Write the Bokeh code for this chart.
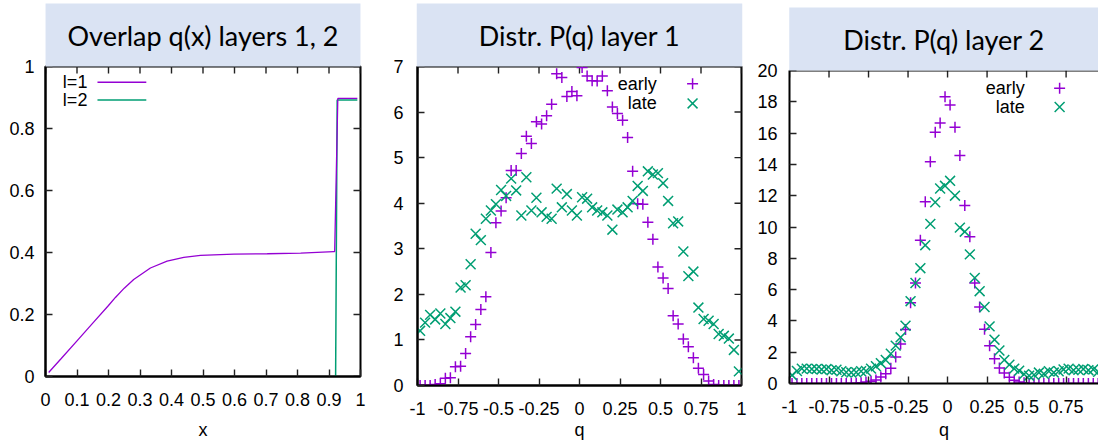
import math
from bokeh.plotting import figure
from bokeh.layouts import row, column
from bokeh.models import Range1d, FixedTicker, CustomJSTickFormatter, Title, Span
from bokeh.core.properties import value
from bokeh.embed import file_html
from bokeh.resources import INLINE

PURPLE = "#9400d3"
GREEN = "#009e73"
TITLE_BG = "#dae3f3"
TICK_FONT = "Liberation Sans"
TITLE_FONT = "Lato"

# ---------------- data ----------------
# panel 1: overlap q(x)
overlap_l1_x = [0.01, 0.05, 0.10, 0.15, 0.20, 0.222, 0.25, 0.28, 0.333, 0.386, 0.439, 0.492,
                0.598, 0.704, 0.81, 0.915, 0.918, 0.928, 0.99]
overlap_l1_y = [0.013, 0.058, 0.115, 0.172, 0.229, 0.255, 0.285, 0.313, 0.350, 0.372, 0.384, 0.391,
                0.395, 0.396, 0.398, 0.403, 0.403, 0.897, 0.897]
overlap_l2_x = [0.921, 0.926, 0.99]
overlap_l2_y = [0.0, 0.892, 0.892]

# panels 2, 3: q bins
q_bins = [-0.984, -0.953, -0.922, -0.891, -0.859, -0.828, -0.797, -0.766, -0.734, -0.703,
          -0.672, -0.641, -0.609, -0.578, -0.547, -0.516, -0.484, -0.453, -0.422, -0.391,
          -0.359, -0.328, -0.297, -0.266, -0.234, -0.203, -0.172, -0.141, -0.109, -0.078,
          -0.047, -0.016, 0.016, 0.047, 0.078, 0.109, 0.141, 0.172, 0.203, 0.234,
          0.266, 0.297, 0.328, 0.359, 0.391, 0.422, 0.453, 0.484, 0.516, 0.547,
          0.578, 0.609, 0.641, 0.672, 0.703, 0.734, 0.766, 0.797, 0.828, 0.859,
          0.891, 0.922, 0.953, 0.984]

layer1_early = [0.0, 0.0, 0.0, 0.02, 0.04, 0.16, 0.17, 0.41, 0.42, 0.70,
                1.07, 1.34, 1.67, 1.95, 2.92, 3.57, 3.83, 4.12, 4.72, 4.72,
                5.09, 5.47, 5.31, 5.79, 5.74, 5.92, 6.17, 6.84, 6.76, 6.34,
                6.45, 6.36, 6.98, 6.79, 6.69, 6.68, 6.79, 6.47, 6.11, 5.97,
                5.82, 5.44, 4.70, 3.99, 3.98, 3.58, 3.21, 2.60, 2.36, 2.13,
                1.53, 1.35, 1.02, 0.85, 0.61, 0.38, 0.24, 0.10, 0.02, 0.0,
                0.0, 0.0, 0.0, 0.0]
layer1_late = [1.20, 1.38, 1.55, 1.45, 1.58, 1.35, 1.48, 1.62, 2.15, 2.20,
               2.66, 3.33, 3.19, 3.66, 3.84, 3.98, 4.29, 4.16, 4.54, 4.28,
               3.73, 4.57, 3.84, 4.12, 3.80, 3.70, 3.66, 4.32, 3.91, 4.20,
               3.84, 3.73, 4.13, 4.10, 3.91, 3.84, 3.80, 3.73, 3.42, 3.86,
               3.80, 3.91, 4.05, 4.38, 4.27, 4.70, 4.63, 4.66, 4.44, 4.05,
               3.56, 3.60, 2.94, 2.40, 2.50, 1.71, 1.46, 1.42, 1.35, 1.13,
               1.09, 1.03, 0.78, 0.31]
layer2_early = [0.0, 0.0, 0.0, 0.0, 0.0, 0.0, 0.0, 0.0, 0.0, 0.0,
                0.0, 0.0, 0.02, 0.02, 0.05, 0.10, 0.15, 0.22, 0.42, 0.63,
                0.97, 1.69, 2.53, 3.45, 5.16, 6.42, 9.16, 11.62, 14.17, 16.05,
                16.64, 18.32, 17.79, 16.38, 14.57, 11.37, 9.37, 6.42, 4.89, 3.47,
                2.42, 1.58, 0.99, 0.67, 0.40, 0.20, 0.10, 0.05, 0.0, 0.0,
                0.0, 0.0, 0.0, 0.0, 0.0, 0.0, 0.0, 0.0, 0.0, 0.0,
                0.0, 0.0, 0.0, 0.0]
layer2_late = [0.53, 0.80, 0.95, 0.95, 0.92, 0.93, 0.90, 0.92, 0.85, 0.88,
               0.78, 0.72, 0.70, 0.72, 0.78, 0.80, 0.95, 1.10, 1.30, 1.50,
               1.90, 2.42, 2.95, 3.69, 5.26, 6.42, 7.37, 8.84, 10.20, 11.58,
               12.46, 12.63, 12.95, 12.00, 9.96, 9.70, 8.25, 6.75, 5.90, 4.89,
               3.65, 2.80, 2.11, 1.50, 1.20, 0.95, 0.82, 0.60, 0.50, 0.55,
               0.70, 0.62, 0.78, 0.70, 0.78, 0.90, 0.95, 0.85, 0.88, 0.92,
               0.85, 0.90, 0.75, 0.60]

x_ticks_1 = [0, 0.1, 0.2, 0.3, 0.4, 0.5, 0.6, 0.7, 0.8, 0.9, 1]
y_ticks_1 = [0, 0.2, 0.4, 0.6, 0.8, 1]
q_ticks = [-1, -0.75, -0.5, -0.25, 0, 0.25, 0.5, 0.75, 1]
y_ticks_2 = [0, 1, 2, 3, 4, 5, 6, 7]
y_ticks_3 = [0, 2, 4, 6, 8, 10, 12, 14, 16, 18, 20]

series_names = ["early", "late"]
legend_l = ["l=1", "l=2"]

FMT = "return String(tick);"
FS = "18px"
TICK_COLOR = "#222222"
FIG_H = 442
FRAME_W = 2
CROSS_SIZE, X_SIZE, MARK_W = 11, 14, 1.5


def style_axis(ax, ticks, label_standoff, axis_label=None, axis_label_standoff=5):
    ax.ticker = FixedTicker(ticks=ticks)
    ax.formatter = CustomJSTickFormatter(code=FMT)
    ax.major_tick_in = 7
    ax.major_tick_out = 0
    ax.minor_tick_line_color = None
    ax.axis_line_color = "black"
    ax.axis_line_width = FRAME_W
    ax.major_tick_line_color = TICK_COLOR
    ax.major_tick_line_width = 1.4
    ax.major_label_text_font = TICK_FONT
    ax.major_label_text_color = "black"
    ax.major_label_text_font_size = FS
    ax.major_label_standoff = label_standoff
    if axis_label:
        ax.axis_label = axis_label
        ax.axis_label_text_font = TICK_FONT
        ax.axis_label_text_font_size = FS
        ax.axis_label_text_font_style = "normal"
        ax.axis_label_text_color = "black"
        ax.axis_label_standoff = axis_label_standoff


def make_panel(title_text, pad_h, width, borders, xr, yr, xticks, yticks,
               xlab, xl_standoff, xlab_standoff, yl_standoff, right_edge=True):
    left, right, top, bottom = borders
    t = Title(text=title_text, align="center", text_font=TITLE_FONT, text_font_size="27px",
              text_font_style="normal", text_color="black",
              background_fill_color=TITLE_BG, padding=(pad_h, 15), standoff=0)
    p = figure(width=width, height=FIG_H, x_range=Range1d(*xr), y_range=Range1d(*yr),
               output_backend="svg", toolbar_location=None, title=t,
               min_border_left=left, min_border_right=right,
               min_border_top=top, min_border_bottom=bottom)
    p.xgrid.grid_line_color = None
    p.ygrid.grid_line_color = None
    p.background_fill_color = "white"
    p.border_fill_color = "white"
    style_axis(p.below[0], xticks, xl_standoff, xlab, xlab_standoff)
    style_axis(p.left[0], yticks, yl_standoff)
    if right_edge:
        p.outline_line_color = "black"
        p.outline_line_width = FRAME_W
    else:
        p.outline_line_color = None
        p.add_layout(Span(location=yr[1], dimension="width", line_color="black",
                          line_width=FRAME_W))
    # mirrored inward ticks on top (and right): half of each dash is clipped by the frame
    p.scatter(xticks, [yr[1]] * len(xticks), marker="dash", angle=math.pi / 2, size=14,
              line_color=TICK_COLOR, line_width=1.4)
    if right_edge:
        p.scatter([xr[1]] * len(yticks), yticks, marker="dash", size=14,
                  line_color=TICK_COLOR, line_width=1.4)
    return p


def add_points(p, q, early, late):
    p.scatter(q, early, marker="cross", size=CROSS_SIZE, line_color=PURPLE, line_width=MARK_W)
    p.scatter(q, late, marker="x", size=X_SIZE, line_color=GREEN, line_width=MARK_W)


def add_legend(p, x_text, x_mark, ys):
    p.text(x=[x_text, x_text], y=ys, text=series_names, text_align="right",
           text_baseline="middle", text_font=value(TICK_FONT), text_font_size=FS,
           text_color="black")
    p.scatter([x_mark], [ys[0]], marker="cross", size=CROSS_SIZE, line_color=PURPLE,
              line_width=MARK_W)
    p.scatter([x_mark], [ys[1]], marker="x", size=X_SIZE, line_color=GREEN, line_width=MARK_W)


# ---------------- panel 1 ----------------
p1 = make_panel("Overlap q(x) layers 1, 2", 22, 375, (45, 15, 66, FIG_H - 380),
                (0, 1), (0, 1), x_ticks_1, y_ticks_1, "x", 16, 11, 11)
p1.line(overlap_l2_x, overlap_l2_y, line_color=GREEN, line_width=1.5)
p1.line(overlap_l1_x, overlap_l1_y, line_color=PURPLE, line_width=1.3)
# legend (text right-aligned, sample line to the right)
lx_text, lx0, lx1 = 0.133, 0.165, 0.32
ly = [0.949, 0.892]
p1.text(x=[lx_text, lx_text], y=ly, text=legend_l, text_align="right", text_baseline="middle",
        text_font=value(TICK_FONT), text_font_size=FS, text_color="black")
p1.segment(x0=[lx0, lx0], y0=ly, x1=[lx1, lx1], y1=ly, line_color=[PURPLE, GREEN], line_width=1.5)

# ---------------- panel 2 ----------------
p2 = make_panel("Distr. P(q) layer 1", 62, 377, (42, 11, 66, FIG_H - 389),
                (-1, 1), (0, 7), q_ticks, y_ticks_2, "q", 16, 2, 14)
add_points(p2, q_bins, layer1_early, layer1_late)
add_legend(p2, 0.477, 0.698, [6.62, 6.19])

# ---------------- panel 3 ----------------
p3 = make_panel("Distr. P(q) layer 2", 54, 346, (37, 0, 70, FIG_H - 387),
                (-1, 0.955), (0, 20), q_ticks, y_ticks_3, "q", 16, 4, 12, right_edge=False)
add_points(p3, q_bins, layer2_early, layer2_late)
add_legend(p3, 0.488, 0.709, [18.87, 17.67])

layout = row(column(p1), column(p2), column(p3))
open("out.html", "w").write(file_html(layout, INLINE))
